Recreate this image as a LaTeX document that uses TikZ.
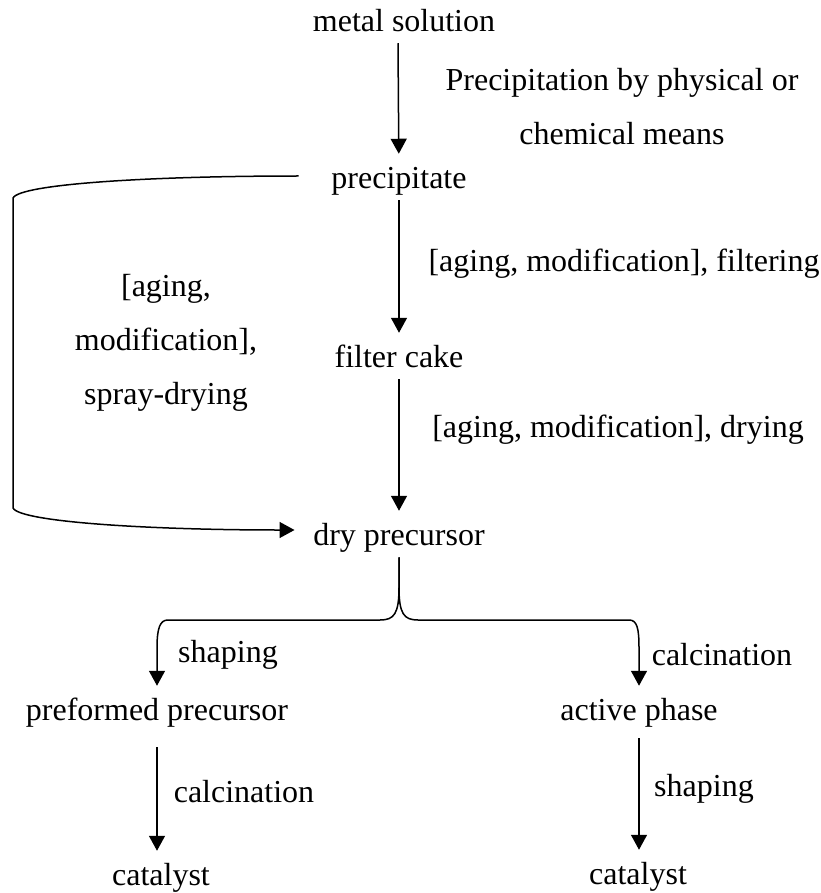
\documentclass[tikz,border=0pt]{standalone}
\usepackage{fontspec}
\setmainfont{Liberation Serif}
\usetikzlibrary{arrows.meta}

\begin{document}
\begin{tikzpicture}[
  x=0.5pt, y=-0.5pt,
  font=\fontsize{16pt}{27pt}\selectfont,
  line width=0.75pt,
  stage/.style={inner xsep=2pt, inner ysep=3pt,
                text height=0.7em, text depth=0.25em},
  lbl/.style={inner sep=0pt, align=center},
  arr/.style={-{Triangle[length=7.5pt,width=8pt]}, shorten >=7pt},
]
\useasboundingbox (0,0) rectangle (820,893);

% main column
\node[stage] (metal)  at (404,27)  {metal solution};
\node[stage] (precip) at (399,184) {precipitate};
\node[stage] (filter) at (399,363) {filter cake};
\node[stage] (dry)    at (399,541) {dry precursor};

% the two branches
\node[stage] (preform) at (157,716) {preformed precursor};
\node[stage] (active)  at (639,716) {active phase};
\node[stage] (catL)    at (161,881) {catalyst};
\node[stage] (catR)    at (638,880) {catalyst};

% step labels
\node[lbl] (lblprec)   at (622,107) {Precipitation by physical or\\chemical means};
\node[lbl] (lblfilt)   at (624,264) {[aging, modification], filtering};
\node[lbl] (lbldry)    at (618,430) {[aging, modification], drying};
\node[lbl] (lblspray)  at (166,343) {[aging,\\modification],\\spray-drying};
\node[lbl] (lblshapeL) at (228,655) {shaping};
\node[lbl] (lblcalcR)  at (722,655) {calcination};
\node[lbl] (lblcalcL)  at (244,792) {calcination};
\node[lbl] (lblshapeR) at (704,789) {shaping};

\draw[arr] ([xshift=-3pt]metal.south) -- (precip);
\draw[arr] (precip) -- (filter);
\draw[arr] (filter) -- (dry);

% spray-drying bypass
\draw[arr] ([xshift=-14pt,yshift=4pt]precip.west)
  .. controls (150,176) and (20,184) .. (13,198) -- (13,508)
  .. controls (20,522) and (150,530) .. ([yshift=5.5pt]dry.west);

% split below dry precursor
\draw[arr] (dry.south) -- ++(0,30)
  .. controls (399,614) and (394,620) .. (380,620) -- (168,620)
  .. controls (160,620) and (157,628) .. (157,648) -- (preform);
\draw[arr] (dry.south) -- ++(0,30)
  .. controls (399,614) and (404,620) .. (418,620) -- (629,620)
  .. controls (637,620) and (639,628) .. (639,648) -- (active);

\draw[arr, shorten <=7.5pt] (preform) -- (preform |- catL.north);
\draw[arr, shorten <=3pt] (active) -- (active |- catR.north);

\end{tikzpicture}
\end{document}
